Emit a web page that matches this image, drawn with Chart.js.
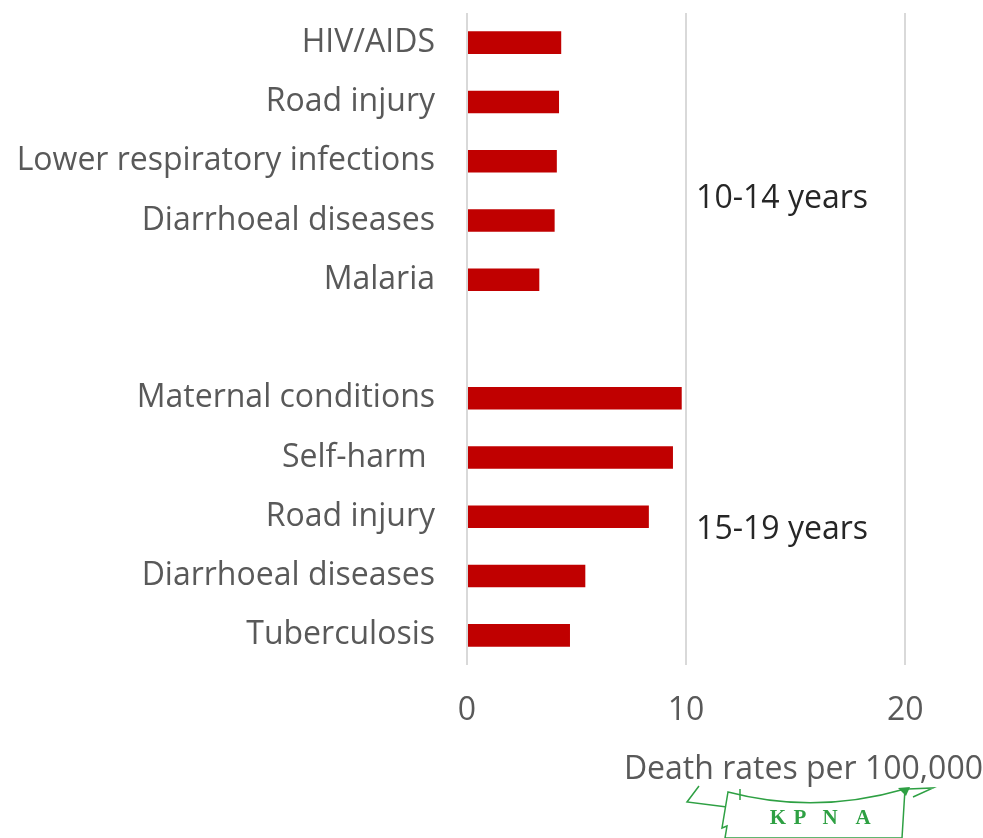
<!DOCTYPE html>
<html>
<head>
<meta charset="utf-8">
<script src="https://cdn.jsdelivr.net/npm/chart.js@4/dist/chart.umd.min.js"></script>
<style>
	html, body { margin: 0; padding: 0; background: #fff; }
	#wrap { width: 983px; height: 838px; position: relative; }
</style>
</head>
<body>
<div id="wrap"><canvas id="deaths"></canvas></div>
<script>
// causes of death, top group 10-14 years, bottom group 15-19 years (empty row between)
var causes = ['HIV/AIDS', 'Road injury', 'Lower respiratory infections', 'Diarrhoeal diseases', 'Malaria', '',
	'Maternal conditions', 'Self-harm ', 'Road injury', 'Diarrhoeal diseases', 'Tuberculosis'];
var rates = [4.3, 4.2, 4.1, 4.0, 3.3, null, 9.8, 9.4, 8.3, 5.4, 4.7];
var groupLabels = ['10-14 years', '15-19 years'];
var xTicks = [0, 10, 20];
var axisTitle = 'Death rates per 100,000';

var labelFont = { family: 'Open Sans', size: 32 };

//////////////////// group labels + logo ////////////////////
var extras = {
	id: 'extras',
	afterDatasetsDraw: function(chart) {
		var ctx = chart.ctx;
		var x = chart.scales.x.getPixelForValue(10) + 10;
		var y = chart.scales.y;
		var ys = [y.getPixelForValue(2.63), y.getPixelForValue(8.22)];
		ctx.save();
		ctx.font = '32px "Open Sans"';
		ctx.fillStyle = '#262626';
		ctx.textBaseline = 'middle';
		ctx.textAlign = 'left';
		for (var i = 0; i < groupLabels.length; i++) {
			ctx.fillText(groupLabels[i], x, ys[i]);
		}
		ctx.restore();
	},
	afterDraw: function(chart) {
		// KPNA banner at the bottom
		var ctx = chart.ctx;
		ctx.save();
		ctx.strokeStyle = '#2ea043';
		ctx.lineWidth = 1.5;
		ctx.fillStyle = '#ffffff';
		// left ribbon tail
		ctx.beginPath();
		ctx.moveTo(699, 786);
		ctx.lineTo(687, 802);
		ctx.lineTo(727, 807);
		ctx.stroke();
		// right ribbon tail
		ctx.beginPath();
		ctx.moveTo(908, 789);
		ctx.lineTo(933, 788);
		ctx.lineTo(913, 797);
		ctx.stroke();
		// banner body
		ctx.beginPath();
		ctx.moveTo(728, 792);
		ctx.quadraticCurveTo(815, 815, 905, 789);
		ctx.lineTo(902, 838);
		ctx.lineTo(725, 838);
		ctx.lineTo(727, 826);
		ctx.lineTo(722, 828);
		ctx.closePath();
		ctx.fill();
		ctx.stroke();
		ctx.beginPath();
		ctx.moveTo(740, 789);
		ctx.lineTo(740, 800);
		ctx.stroke();
		ctx.fillStyle = '#2ea043';
		ctx.beginPath();
		ctx.moveTo(898, 788);
		ctx.lineTo(910, 787);
		ctx.lineTo(906, 796);
		ctx.closePath();
		ctx.fill();
		ctx.font = 'bold 21px "Liberation Serif"';
		ctx.textAlign = 'center';
		ctx.textBaseline = 'middle';
		var letters = ['K', 'P', 'N', 'A'];
		var lx = [778, 800, 830, 863];
		for (var i = 0; i < letters.length; i++) {
			ctx.fillText(letters[i], lx[i], 819);
		}
		ctx.restore();
	}
};

var deaths_chart = document.getElementById('deaths').getContext('2d');
var deaths = new Chart(deaths_chart, {
	type: 'bar',
	data: {
		labels: causes,
		datasets: [{
			data: rates,
			backgroundColor: '#c00000',
			borderWidth: 0,
			categoryPercentage: 1,
			barPercentage: 0.38
		}]
	},
	options: {
		indexAxis: 'y',
		responsive: true,
		maintainAspectRatio: false,
		animation: false,
		layout: { padding: { top: 13, right: 0, bottom: 0, left: 0 } },
		plugins: {
			legend: { display: false },
			tooltip: { enabled: false }
		},
		scales: {
			x: {
				min: 0,
				max: 23.55,
				afterFit: function(axis) {
					axis.height = 173;
					axis.paddingLeft = 0;
					axis.paddingRight = 0;
				},
				afterBuildTicks: function(axis) {
					axis.ticks = xTicks.map(function(v) { return { value: v }; });
				},
				grid: { color: '#d9d9d9', lineWidth: 2, drawTicks: false },
				border: { display: false },
				ticks: { color: '#595959', font: labelFont, padding: 27, maxRotation: 0 },
				title: {
					display: true,
					text: axisTitle,
					align: 'end',
					color: '#595959',
					font: labelFont,
					padding: { top: 0, bottom: 49 }
				}
			},
			y: {
				afterFit: function(axis) {
					axis.width = 467;
					axis.paddingTop = 0;
					axis.paddingBottom = 0;
				},
				grid: { display: false, drawTicks: false },
				border: { display: false },
				ticks: { color: '#595959', font: labelFont, padding: 32, autoSkip: false }
			}
		}
	},
	plugins: [extras]
});
</script>
</body>
</html>
